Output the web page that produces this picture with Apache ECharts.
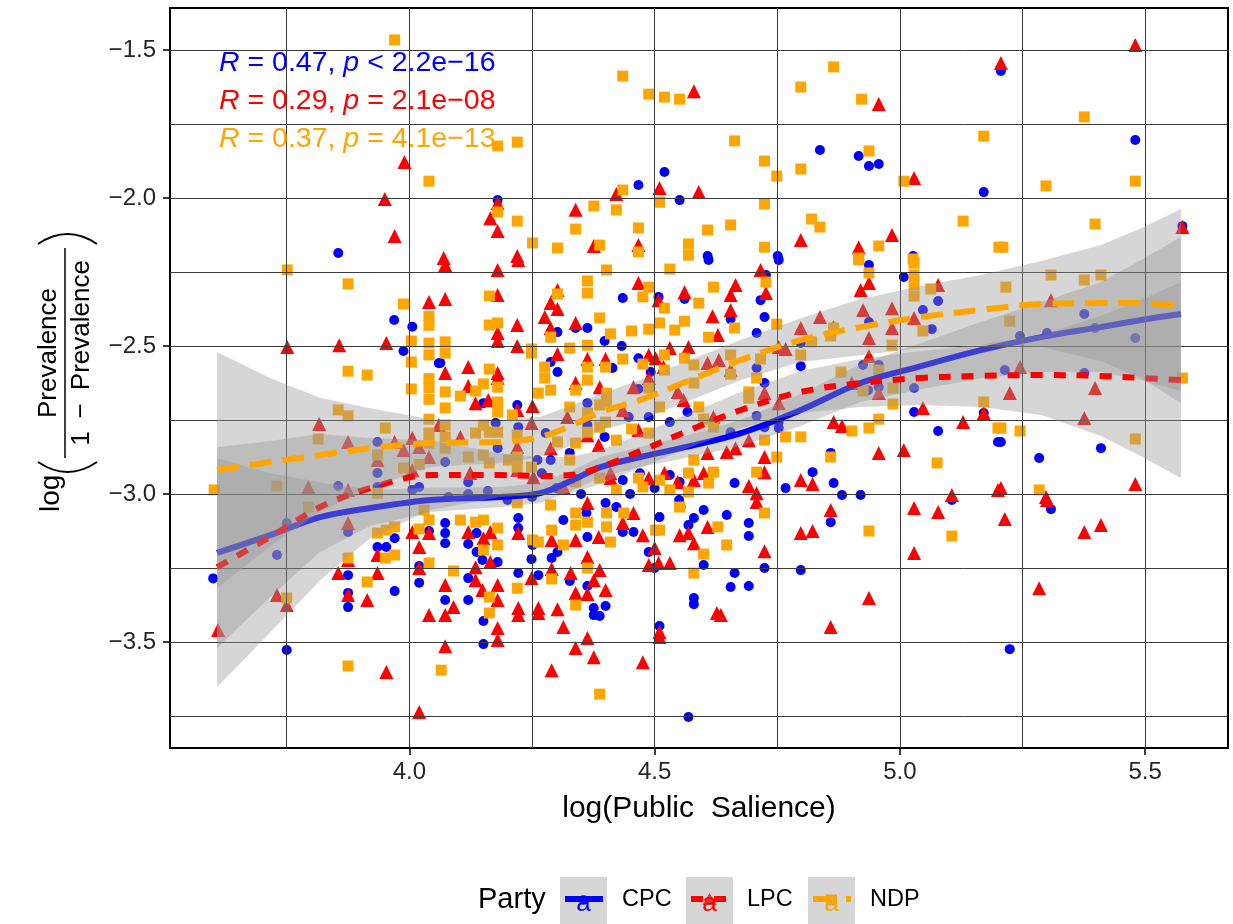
<!DOCTYPE html>
<html><head><meta charset="utf-8">
<script src="https://cdn.jsdelivr.net/npm/echarts@6/dist/echarts.min.js"></script>
<style>html,body{margin:0;padding:0;background:#fff}#c{width:1233px;height:924px}</style>
</head><body><div id="c"></div>
<script>
// ---------- data ----------
const cpcPoints = [
[3.60,-3.285],[3.73,-3.206],[3.75,-3.098],[3.75,-3.527],[3.855,-2.186],[3.855,-2.973],[3.875,-3.128],[3.875,-3.274],[3.875,-3.334],[3.875,-3.382],
[3.935,-2.824],[3.935,-2.929],[3.935,-2.976],[3.935,-3.179],[3.953,-3.179],[3.97,-3.149],[3.97,-3.328],[3.969,-2.412],[3.988,-2.517],[4.006,-2.435],
[4.006,-2.986],[4.02,-2.976],[4.02,-3.243],[4.02,-3.30],[4.04,-2.615],[4.04,-3.125],[4.06,-2.558],[4.063,-2.557],
[4.18,-2.007],[4.467,-1.956],[4.52,-1.912],[4.551,-2.007],[4.608,-2.196],
[4.837,-1.838],[4.916,-1.858],[4.937,-1.892],[4.957,-1.885],[5.171,-1.98],[4.751,-2.196],[5.027,-2.196],
[5.206,-1.571],[5.48,-1.804],[5.576,-2.095],
[5.376,-2.392],[5.245,-2.466],[5.3,-2.456],[5.398,-2.439],[5.48,-2.473],[5.214,-2.581],[5.376,-2.591],[5.206,-2.824],[5.284,-2.878],[5.41,-2.845],
[4.647,-3.071],[4.692,-3.098],[4.692,-3.142],[4.724,-3.25],[4.663,-3.267],[4.655,-3.314],[4.692,-3.311],[4.859,-3.095],[4.798,-3.257],[5.106,-3.02],[5.308,-3.051],[5.224,-3.524],
[4.727,-2.26],[4.716,-2.345],[4.655,-2.409],[4.724,-2.402],[4.708,-2.456],[4.798,-2.49],[4.798,-2.568],[4.708,-2.574],[4.724,-2.625],[4.708,-2.736],
[4.724,-2.774],[4.753,-2.757],[4.753,-2.777],[4.655,-2.791],[4.663,-2.963],[4.767,-2.98],[4.822,-2.926],[4.865,-2.963],[4.859,-2.861],[4.882,-3.003],
[4.92,-3.003],[5.029,-2.723],[5.078,-2.787],[5.171,-2.726],[5.2,-2.824],[4.753,-2.209],[4.937,-2.226],[5.008,-2.267],[5.078,-2.348],[5.047,-2.378],
[5.065,-2.443],[4.937,-2.419],[4.925,-2.564],[4.957,-2.564],[4.935,-2.649],[4.957,-2.639],[5.029,-2.642],
[4.61,-2.209],[4.435,-2.338],[4.508,-2.334],[4.561,-2.341],[4.302,-2.453],[4.339,-2.439],[4.363,-2.439],[4.398,-2.483],[4.433,-2.50],[4.288,-2.554],
[4.302,-2.588],[4.414,-2.574],[4.467,-2.541],[4.492,-2.588],[4.151,-2.693],[4.22,-2.699],[4.363,-2.693],[4.467,-2.645],[4.488,-2.74],[4.447,-2.74],
[4.531,-2.757],[4.363,-2.767],[4.398,-2.807],[4.278,-2.794],[4.222,-2.774],[4.176,-2.76],[4.073,-2.892],[4.18,-2.845],[4.261,-2.885],[4.288,-2.885],
[4.327,-2.861],[4.435,-2.953],[4.531,-2.936],[4.551,-2.959],[4.567,-2.723],
[4.08,-3.01],[4.12,-3.0],[4.16,-2.99],[4.2,-3.02],[4.25,-3.01],[4.3,-2.98],[4.35,-3.0],[4.4,-3.03],[4.45,-3.0],[4.5,-2.98],[4.55,-3.02],[4.12,-2.96],[4.27,-2.93],[4.34,-2.95],[4.47,-2.93],
[4.073,-3.098],[4.073,-3.132],[4.073,-3.166],[4.137,-3.132],[4.12,-3.169],[4.137,-3.196],[4.18,-3.23],[4.149,-3.223],[4.12,-3.284],[4.12,-3.358],
[4.151,-3.429],[4.151,-3.507],[4.073,-3.358],[4.222,-3.115],[4.222,-3.081],[4.222,-3.267],[4.249,-3.22],[4.251,-3.172],[4.263,-3.274],[4.29,-3.216],
[4.302,-3.196],[4.314,-3.088],[4.327,-3.294],[4.363,-3.145],[4.363,-3.311],[4.376,-3.385],[4.388,-3.412],[4.376,-3.409],[4.4,-3.378],[4.435,-3.128],
[4.457,-3.128],[4.422,-3.044],[4.488,-3.196],[4.51,-3.078],[4.5,-3.25],[4.51,-3.446],[4.569,-3.753],[4.569,-3.105],[4.58,-3.081],[4.58,-3.351],
[4.58,-3.372],[4.6,-3.24],[4.553,-3.044],[4.6,-3.054],[4.361,-3.064]
];
const lpcPoints = [
[3.61,-3.459],[3.73,-3.341],[3.751,-2.503],[3.75,-3.375],[3.99,-1.878],[3.95,-2.003],[3.97,-2.128],[4.04,-2.351],[3.857,-2.497],[3.953,-2.49],
[3.816,-2.763],[3.875,-2.824],[3.935,-2.885],[3.97,-2.824],[4.006,-2.811],[4.06,-2.767],[3.988,-2.851],[4.02,-2.841],[3.794,-2.976],[3.875,-2.986],
[4.006,-2.919],[4.04,-2.875],[3.875,-3.098],[3.875,-3.223],[3.855,-3.267],[3.875,-3.341],[3.914,-3.358],[3.935,-3.267],[3.935,-3.206],[3.953,-3.601],
[4.02,-3.736],[4.006,-3.128],[4.04,-3.132],[4.02,-3.179],[4.02,-3.25],[4.04,-3.409],
[4.58,-1.639],[4.422,-1.986],[4.51,-1.966],[4.59,-1.98],[4.18,-2.017],[4.165,-2.068],[4.18,-2.111],[4.339,-2.04],[4.376,-2.162],[4.467,-2.159],[4.22,-2.196],[4.07,-2.203],
[4.957,-1.682],[5.029,-1.932],[4.798,-2.142],[4.916,-2.166],[4.984,-2.125],
[5.48,-1.483],[5.206,-1.544],[5.576,-2.098],
[5.308,-2.345],[5.245,-2.571],[5.224,-2.659],[5.398,-2.642],[5.376,-2.743],[5.206,-2.98],[5.298,-3.01],[5.48,-2.966],
[4.708,-3.027],[4.724,-3.193],[4.635,-3.409],[4.859,-3.054],[4.798,-3.132],[4.822,-3.125],[4.937,-3.351],[4.859,-3.449],[5.029,-3.047],[5.078,-3.061],
[5.029,-3.199],[5.214,-3.084],[5.30,-3.02],[5.376,-3.128],[5.41,-3.105],[5.284,-3.318],
[4.716,-2.243],[4.665,-2.294],[4.727,-2.321],[4.655,-2.328],[4.655,-2.378],[4.798,-2.439],[4.837,-2.402],[4.865,-2.436],[4.753,-2.503],[4.767,-2.51],
[4.655,-2.581],[4.724,-2.659],[4.753,-2.693],[4.692,-2.818],[4.647,-2.858],[4.665,-2.845],[4.724,-2.875],[4.724,-2.926],[4.692,-2.973],[4.708,-2.997],
[4.798,-2.953],[4.822,-2.966],[4.865,-2.757],[4.882,-2.77],[4.957,-2.861],[5.008,-2.851],[5.047,-2.709],[5.129,-2.757],[5.171,-2.726],[5.2,-2.986],
[5.106,-3.003],[4.937,-2.287],[4.92,-2.311],[5.078,-2.294],[4.925,-2.378],[4.984,-2.372],[4.984,-2.439],[4.937,-2.473],[5.029,-2.405],[4.937,-2.534],
[4.902,-2.625],[4.957,-2.659],
[4.073,-2.226],[4.18,-2.243],[4.222,-2.209],[4.467,-2.287],[4.302,-2.311],[4.18,-2.328],[4.073,-2.341],[4.508,-2.345],[4.561,-2.318],[4.288,-2.355],
[4.302,-2.375],[4.618,-2.399],[4.276,-2.402],[4.22,-2.429],[4.339,-2.422],[4.288,-2.439],[4.18,-2.456],[4.18,-2.483],[4.629,-2.463],[4.22,-2.50],
[4.302,-2.527],[4.363,-2.544],[4.4,-2.544],[4.488,-2.53],[4.502,-2.541],[4.531,-2.507],[4.569,-2.503],[4.518,-2.571],[4.608,-2.557],[4.631,-2.547],
[4.547,-2.655],[4.559,-2.682],[4.073,-2.591],[4.12,-2.571],[4.18,-2.591],[4.18,-2.608],[4.12,-2.635],[4.135,-2.693],[4.161,-2.682],[4.22,-2.716],
[4.251,-2.703],[4.339,-2.625],[4.388,-2.639],[4.457,-2.639],[4.488,-2.608],[4.435,-2.716],[4.62,-2.74],[4.322,-2.74],[4.363,-2.801],[4.467,-2.784],
[4.386,-2.834],[4.288,-2.845],[4.249,-2.76],[4.104,-2.807],[4.124,-2.929],[4.22,-2.841],[4.22,-2.919],[4.253,-2.943],[4.314,-2.976],[4.41,-2.929],
[4.41,-2.946],[4.488,-2.946],[4.52,-2.929],[4.547,-2.959],[4.58,-2.953],[4.6,-2.929],[4.608,-2.861],
[4.12,-3.128],[4.165,-3.128],[4.151,-3.149],[4.165,-3.23],[4.135,-3.247],[4.135,-3.291],[4.18,-3.307],[4.149,-3.324],[4.18,-3.358],[4.18,-3.453],
[4.18,-3.493],[4.073,-3.307],[4.09,-3.382],[4.073,-3.409],[4.073,-3.514],[4.222,-3.132],[4.222,-3.385],[4.222,-3.409],[4.249,-3.284],[4.263,-3.385],
[4.263,-3.402],[4.29,-3.253],[4.29,-3.155],[4.302,-3.389],[4.314,-3.449],[4.29,-3.595],[4.339,-3.155],[4.339,-3.334],[4.329,-3.267],[4.339,-3.52],
[4.363,-3.213],[4.376,-3.291],[4.363,-3.338],[4.363,-3.486],[4.376,-3.551],[4.388,-3.257],[4.4,-3.324],[4.386,-3.145],[4.435,-3.098],[4.457,-3.064],
[4.476,-3.139],[4.5,-3.182],[4.488,-3.24],[4.508,-3.233],[4.531,-3.233],[4.51,-3.466],[4.51,-3.483],[4.476,-3.568],[4.551,-3.139],[4.569,-3.132],
[4.58,-3.166],[4.608,-3.111],[4.627,-3.402],[4.363,-3.03]
];
const ndpPoints = [
[3.602,-2.986],[3.751,-2.243],[3.75,-3.351],[3.97,-1.466],[4.04,-1.943],[3.875,-2.29],[3.988,-2.358],[4.04,-2.40],[4.04,-2.43],[4.004,-2.483],
[4.004,-2.554],[3.875,-2.585],[3.914,-2.598],[4.004,-2.645],[4.04,-2.49],[4.04,-2.53],[4.04,-2.61],[4.04,-2.64],[4.04,-2.68],[3.855,-2.716],
[3.875,-2.736],[3.814,-2.814],[3.951,-2.777],[3.935,-2.868],[4.04,-2.794],[4.04,-2.747],[4.04,-2.828],[3.73,-2.973],[3.935,-2.997],[3.988,-2.912],
[4.02,-2.90],[3.794,-3.044],[3.875,-3.216],[3.914,-3.297],[3.935,-3.132],[3.953,-3.122],[3.97,-3.111],[3.951,-3.216],[3.97,-3.206],[3.875,-3.581],
[4.065,-3.595],[4.02,-3.118],[4.04,-3.088],[4.04,-3.233],[4.03,-3.054],
[4.435,-1.588],[4.488,-1.649],[4.52,-1.659],[4.551,-1.666],[4.18,-1.824],[4.22,-1.811],[4.435,-1.973],[4.51,-2.014],[4.18,-2.047],[4.22,-2.078],
[4.251,-2.152],[4.302,-2.169],[4.376,-2.027],[4.422,-2.04],[4.339,-2.105],[4.388,-2.159],[4.467,-2.101],[4.467,-2.182],[4.569,-2.155],[4.569,-2.193],[4.608,-2.108],
[4.865,-1.557],[4.798,-1.625],[4.922,-1.666],[4.663,-1.807],[4.937,-1.841],[4.724,-1.875],[4.798,-1.902],[4.749,-1.926],[5.008,-1.943],[5.171,-1.791],
[4.724,-2.02],[4.655,-2.091],[4.82,-2.071],[4.837,-2.098],[5.129,-2.078],[4.724,-2.166],[4.957,-2.162],[5.202,-2.166],[4.916,-2.203],[5.027,-2.206],
[5.376,-1.726],[5.298,-1.959],[5.48,-1.943],[5.398,-2.088],[5.21,-2.166],
[5.308,-2.26],[5.376,-2.277],[5.41,-2.26],[5.216,-2.301],[5.224,-2.416],[5.576,-2.608],[5.206,-2.777],[5.245,-2.787],[5.48,-2.814],[5.284,-2.986],
[4.724,-3.064],[4.647,-3.172],[4.937,-3.125],[5.106,-3.142],
[4.727,-2.284],[4.663,-2.439],[4.749,-2.426],[4.865,-2.439],[4.859,-2.466],[4.82,-2.486],[4.798,-2.53],[4.655,-2.53],[4.655,-2.595],[4.716,-2.544],
[4.708,-2.608],[4.692,-2.655],[4.692,-2.676],[4.724,-2.818],[4.767,-2.807],[4.798,-2.807],[4.749,-2.875],[4.708,-2.926],[4.859,-2.875],[4.902,-2.787],
[4.937,-2.777],[4.957,-2.747],[5.076,-2.895],[5.171,-2.689],[5.2,-2.777],[4.916,-2.209],[4.937,-2.253],[5.029,-2.22],[5.029,-2.26],[5.029,-2.294],
[5.029,-2.331],[5.063,-2.307],[5.047,-2.449],[4.984,-2.497],[4.957,-2.581],[4.88,-2.588],[4.925,-2.652],[4.986,-2.642],[4.986,-2.696],
[4.402,-2.243],[4.531,-2.24],[4.488,-2.301],[4.363,-2.28],[4.363,-2.321],[4.302,-2.324],[4.163,-2.331],[4.476,-2.334],[4.59,-2.355],[4.62,-2.301],
[4.52,-2.372],[4.388,-2.405],[4.163,-2.429],[4.18,-2.422],[4.288,-2.47],[4.41,-2.459],[4.453,-2.449],[4.488,-2.443],[4.51,-2.422],[4.541,-2.446],
[4.561,-2.416],[4.61,-2.47],[4.249,-2.51],[4.327,-2.507],[4.363,-2.497],[4.073,-2.486],[4.073,-2.524],[4.249,-2.524],[4.363,-2.571],[4.4,-2.571],
[4.435,-2.544],[4.476,-2.561],[4.52,-2.53],[4.52,-2.581],[4.561,-2.541],[4.58,-2.564],[4.58,-2.625],[4.59,-2.706],[4.073,-2.655],[4.073,-2.709],
[4.163,-2.578],[4.151,-2.628],[4.18,-2.639],[4.135,-2.652],[4.104,-2.669],[4.18,-2.689],[4.18,-2.723],[4.21,-2.733],[4.263,-2.659],[4.276,-2.571],
[4.276,-2.608],[4.288,-2.649],[4.339,-2.649],[4.363,-2.615],[4.402,-2.659],[4.402,-2.689],[4.488,-2.642],[4.51,-2.706],[4.6,-2.747],[4.62,-2.774],
[4.327,-2.706],[4.363,-2.726],[4.388,-2.699],[4.4,-2.757],[4.388,-2.774],[4.363,-2.791],[4.339,-2.828],[4.302,-2.824],[4.453,-2.78],[4.488,-2.794],
[4.422,-2.818],[4.22,-2.801],[4.18,-2.791],[4.163,-2.791],[4.135,-2.794],[4.151,-2.767],[4.073,-2.767],[4.073,-2.807],[4.073,-2.845],[4.12,-2.875],
[4.151,-2.868],[4.163,-2.895],[4.202,-2.885],[4.22,-2.875],[4.22,-2.909],[4.249,-2.909],[4.327,-2.885],[4.339,-2.959],[4.388,-2.946],[4.422,-2.986],
[4.467,-2.946],[4.476,-2.976],[4.51,-2.953],[4.531,-2.986],[4.569,-2.929],[4.569,-2.993],[4.61,-2.963],[4.58,-2.885],[4.62,-2.926],
[4.104,-3.088],[4.135,-3.095],[4.151,-3.088],[4.18,-3.115],[4.151,-3.189],[4.18,-3.172],[4.163,-3.348],[4.163,-3.402],[4.09,-3.26],[4.22,-3.318],
[4.251,-3.155],[4.263,-3.162],[4.29,-3.287],[4.29,-3.122],[4.314,-3.172],[4.339,-3.064],[4.339,-3.105],[4.363,-3.25],[4.339,-3.375],[4.363,-3.095],
[4.388,-3.676],[4.402,-3.064],[4.402,-3.111],[4.41,-3.162],[4.437,-3.064],[4.502,-3.122],[4.51,-3.122],[4.58,-3.267],[4.6,-3.203],[4.629,-3.111],
[4.551,-3.044],[4.22,-3.03],[4.288,-3.037]
];
// LOESS fits and half-widths of the confidence ribbons, read at these x positions
const smoothX = [3.608,3.716,3.818,3.920,4.043,4.186,4.267,4.329,4.390,4.471,4.553,4.676,4.798,4.920,5.043,5.165,5.288,5.410,5.492,5.573];
const cpcFit = [-3.199,-3.139,-3.078,-3.047,-3.020,-3.010,-2.997,-2.956,-2.909,-2.875,-2.845,-2.794,-2.716,-2.625,-2.568,-2.514,-2.470,-2.436,-2.412,-2.392];
const cpcSe  = [0.321,0.209,0.118,0.061,0.041,0.034,0.034,0.034,0.034,0.034,0.037,0.044,0.054,0.064,0.078,0.095,0.118,0.152,0.203,0.260];
const lpcFit = [-3.247,-3.145,-3.044,-2.980,-2.936,-2.936,-2.939,-2.936,-2.909,-2.855,-2.797,-2.716,-2.655,-2.625,-2.608,-2.601,-2.598,-2.601,-2.608,-2.615];
const lpcSe  = [0.405,0.324,0.247,0.169,0.118,0.074,0.064,0.061,0.057,0.057,0.057,0.061,0.071,0.081,0.091,0.105,0.135,0.203,0.264,0.331];
const ndpFit = [-2.919,-2.892,-2.868,-2.845,-2.828,-2.824,-2.807,-2.770,-2.723,-2.682,-2.628,-2.547,-2.480,-2.436,-2.402,-2.378,-2.358,-2.355,-2.355,-2.365];
const ndpSe  = [0.399,0.284,0.193,0.135,0.081,0.071,0.068,0.068,0.061,0.068,0.068,0.068,0.074,0.095,0.105,0.118,0.145,0.196,0.253,0.328];
const xTicks = [4.0,4.5,5.0,5.5];
const xMinor = [3.75,4.25,4.75,5.25];
const yTicks = [-3.5,-3.0,-2.5,-2.0,-1.5];
const yMinor = [-3.75,-3.25,-2.75,-2.25,-1.75];
const parties = ['CPC','LPC','NDP'];
const corR = ['0.47','0.29','0.37'];
const corP = ['< 2.2e\u221216','= 2.1e\u221208','= 4.1e\u221213'];

// ---------- styling ----------
const FONT = '"Liberation Sans", Arial, Helvetica, sans-serif';
const COLORS = ['#0000FF','#FF0000','#FFA500'];
const SYMBOLS = ['circle','triangle','rect'];
const SIZES = [10,14,11];
const DASH = ['solid',[12,11],[22,11]];
const RIBBON = 'rgba(153,153,153,0.4)';

const chart = echarts.init(document.getElementById('c'), null, {renderer:'canvas'});

function band(fit, se, z){
  return {type:'custom', z:z, silent:true, clip:true, data:[[smoothX[0], fit[0]]],
    renderItem:function(params, api){
      const pts=[];
      for(let i=0;i<smoothX.length;i++) pts.push(api.coord([smoothX[i], fit[i]+se[i]]));
      for(let i=smoothX.length-1;i>=0;i--) pts.push(api.coord([smoothX[i], fit[i]-se[i]]));
      return {type:'polygon', shape:{points:pts}, style:{fill:RIBBON, stroke:null}};
    }};
}
function fitLine(fit, idx, z){
  return {type:'line', z:z, silent:true, showSymbol:false, smooth:0.35,
    data: smoothX.map((x,i)=>[x, fit[i]]),
    lineStyle:{color:COLORS[idx], width:6, type:DASH[idx], cap:'butt'}};
}
const pointSets=[cpcPoints,lpcPoints,ndpPoints];
const series=[];
series.push({type:'line', data:[], z:1, silent:true,
  markLine:{silent:true, symbol:'none', animation:false, label:{show:false},
    lineStyle:{color:'#3a3a3a', width:1, type:'solid'},
    emphasis:{disabled:true},
    data: xMinor.concat(xTicks).map(v=>({xAxis:v})).concat(yMinor.concat(yTicks).map(v=>({yAxis:v})))}});
pointSets.forEach((pts,i)=>{
  series.push({type:'scatter', z:2, silent:true, data:pts, symbol:SYMBOLS[i], symbolSize:SIZES[i],
    itemStyle:{color:COLORS[i], opacity:1}});
});
series.push(band(cpcFit,cpcSe,3)); series.push(fitLine(cpcFit,0,4));
series.push(band(lpcFit,lpcSe,5)); series.push(fitLine(lpcFit,1,6));
series.push(band(ndpFit,ndpSe,7)); series.push(fitLine(ndpFit,2,8));

const minus = v => (v<0?'\u2212':'')+Math.abs(v).toFixed(1);

// correlation annotations
const corGraphics = corR.map((r,i)=>({
  type:'text', left:219, top:49+i*38, z:100,
  style:{text:'{i|R} = '+r+', {i|p} '+corP[i], fill:COLORS[i], font:'28.5px '+FONT,
    rich:{i:{fontStyle:'italic', fontSize:28.5, fontFamily:FONT, fill:COLORS[i]}}}
}));

// legend (drawn with graphic elements)
const legendKeys=[560,686,808], legendTexts=[622,747,870];
const txt = (t,x,y,size,fill,align) => ({type:'text', x:x, y:y, z:101,
  style:{text:t, font:size+'px '+FONT, fill:fill, align:align, verticalAlign:'middle', textAlign:align, textVerticalAlign:'middle'}});
const legendGraphics=[txt('Party',478,900,29,'#000','left')];
parties.forEach((p,i)=>{
  const kx=legendKeys[i], ky=877, cx=kx+23.5, cy=900;
  const sym = i===0 ? {type:'circle', shape:{cx:cx, cy:cy, r:5}} :
              i===1 ? {type:'polygon', shape:{points:[[cx,cy-7],[cx+7,cy+5],[cx-7,cy+5]]}} :
                      {type:'rect', shape:{x:cx-5.5, y:cy-5.5, width:11, height:11}};
  sym.style={fill:COLORS[i]}; sym.z=100;
  legendGraphics.push({type:'rect', z:100, shape:{x:kx, y:ky, width:47, height:47}, style:{fill:'#fff'}});
  legendGraphics.push(sym);
  legendGraphics.push({type:'rect', z:100, shape:{x:kx, y:ky, width:47, height:47}, style:{fill:RIBBON}});
  legendGraphics.push({type:'line', z:100, shape:{x1:kx+5, y1:cy-1, x2:kx+43, y2:cy-1},
    style:{stroke:COLORS[i], lineWidth:6, lineDash: i===0?null:DASH[i], lineCap:'butt'}});
  legendGraphics.push(txt('a', cx, 904, 26, COLORS[i], 'center'));
  legendGraphics.push(txt(p, legendTexts[i], 900, 23.5, '#000', 'left'));
});

// y axis title: log( Prevalence / (1 - Prevalence) ), rotated to read upward
const T = (t,x,y,size,align) => ({type:'text', x:x, y:y,
  style:{text:t, font:size+'px '+FONT, fill:'#000', align:align, verticalAlign:'middle', textAlign:align, textVerticalAlign:'middle'}});
const ytitle = {type:'group', x:65, y:512, rotation:Math.PI/2, z:100, children:[
  T('log',0,-14,28,'left'),
  {type:'bezierCurve', shape:{x1:50, y1:-27, x2:50, y2:32, cpx1:30, cpy1:2.5}, style:{fill:null, stroke:'#000', lineWidth:2}},
  {type:'line', shape:{x1:54, y1:0, x2:264, y2:0}, style:{stroke:'#000', lineWidth:1.5}},
  T('Prevalence',159,-16,26,'center'),
  T('1\u2002\u2212\u2002Prevalence',159,17,26,'center'),
  {type:'bezierCurve', shape:{x1:268, y1:-27, x2:268, y2:32, cpx1:288, cpy1:2.5}, style:{fill:null, stroke:'#000', lineWidth:2}}
]};

chart.setOption({
  animation:false,
  backgroundColor:'#fff',
  grid:{left:170, top:8, width:1058, height:740, show:true, borderColor:'#000', borderWidth:2, backgroundColor:'transparent', containLabel:false},
  xAxis:{type:'value', min:3.512, max:5.669,
    name:'log(Public  Salience)', nameLocation:'middle', nameGap:46,
    nameTextStyle:{fontSize:30, fontFamily:FONT, color:'#000'},
    axisLine:{show:false}, splitLine:{show:false},
    axisTick:{show:true, customValues:xTicks, length:7, lineStyle:{color:'#000', width:1.5}},
    axisLabel:{customValues:xTicks, formatter:v=>v.toFixed(1), fontSize:24, fontFamily:FONT, color:'#262626', margin:12}},
  yAxis:{type:'value', min:-3.858, max:-1.358,
    axisLine:{show:false}, splitLine:{show:false},
    axisTick:{show:true, customValues:yTicks, length:7, lineStyle:{color:'#000', width:1.5}},
    axisLabel:{customValues:yTicks, formatter:minus, fontSize:24, fontFamily:FONT, color:'#262626', margin:14}},
  series:series,
  graphic:[ytitle].concat(corGraphics, legendGraphics)
});
</script></body></html>
